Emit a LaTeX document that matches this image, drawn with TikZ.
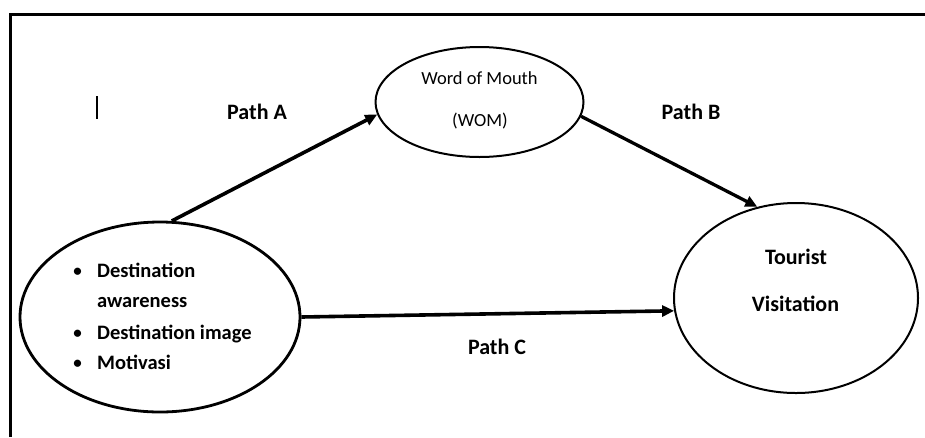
\documentclass[tikz,border=0pt]{standalone}
\usepackage{fontspec}
\setmainfont{Carlito}
\usetikzlibrary{shapes.geometric,arrows.meta}
\begin{document}
\begin{tikzpicture}[x=1pt,y=-1pt,
  oval/.style={draw=black,ellipse,inner sep=0pt,line width=2pt},
  conn/.style={line width=3.6pt,-{Triangle[length=12pt,width=11pt]}},
  lbl/.style={font=\bfseries\fontsize{22}{26}\selectfont,anchor=base,inner sep=0pt},
  item/.style={font=\bfseries\fontsize{20.5}{24}\selectfont,anchor=base west,inner sep=0pt},
  bul/.style={font=\bfseries\fontsize{17}{20}\selectfont,anchor=base,inner sep=0pt},
  wom/.style={font=\fontsize{18.5}{22}\selectfont,anchor=base,inner sep=0pt}
]
\useasboundingbox (0,0) rectangle (925,437);
% frame
\draw[line width=3pt] (10.5,437) -- (10.5,14.5) -- (925,14.5);
% cursor mark
\draw[line width=2pt] (97,96) -- (97,119);
% ellipses
\node[oval,line width=2.8pt,minimum width=280pt,minimum height=190pt] (L) at (160,317) {};
\node[oval,minimum width=208pt,minimum height=110pt] (W) at (479.5,102) {};
\node[oval,minimum width=244pt,minimum height=190pt] (T) at (796,298) {};
% texts
\node[wom] (w1) at (479.5,84) {Word of Mouth};
\node[wom] (w2) at (480,126) {(WOM)};
\node[lbl] (t1) at (796,264) {Tourist};
\node[lbl] (t2) at (795.5,311) {Visitation};
\node[bul] (b1) at (77.5,276) {•};
\node[item] (i1) at (97,277) {Destination};
\node[item] (i1b) at (97,307) {awareness};
\node[bul] (b2) at (77.5,338) {•};
\node[item] (i2) at (97,339) {Destination image};
\node[bul] (b3) at (77.5,368) {•};
\node[item] (i3) at (97,369) {Motivasi};
\node[lbl] (pa) at (257,119) {Path A};
\node[lbl] (pb) at (691,119) {Path B};
\node[lbl] (pc) at (497,354) {Path C};
% connectors
\draw[conn] (L.83) -- (W.187);
\draw[conn,line width=3.3pt] (W.-8) -- (T.113);
\draw[conn] (L.0) -- (T.186);
\end{tikzpicture}
\end{document}
